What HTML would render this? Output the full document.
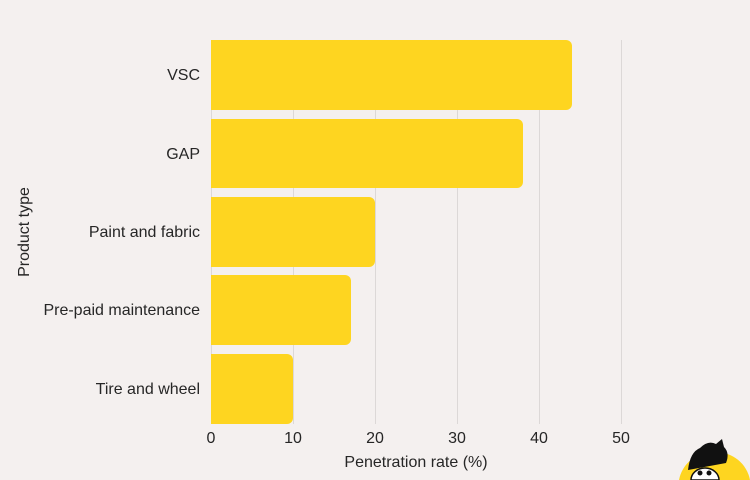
<!DOCTYPE html>
<html><head><style>
html,body{margin:0;padding:0;width:750px;height:480px;background:#f4f0ef;overflow:hidden;}
svg{display:block;}
svg text{font-family:"Liberation Sans",sans-serif;fill:#262626;}
</style></head><body>
<svg width="750" height="480" viewBox="0 0 750 480" xmlns="http://www.w3.org/2000/svg">
<rect width="750" height="480" fill="#f4f0ef"/>
<g stroke="#dcd8d7" stroke-width="1">
<line x1="211.5" y1="40" x2="211.5" y2="424"/>
<line x1="293.5" y1="40" x2="293.5" y2="424"/>
<line x1="375.5" y1="40" x2="375.5" y2="424"/>
<line x1="457.5" y1="40" x2="457.5" y2="424"/>
<line x1="539.5" y1="40" x2="539.5" y2="424"/>
<line x1="621.5" y1="40" x2="621.5" y2="424"/>
</g>
<g fill="#fed520">
<path d="M211 40 H566 a6 6 0 0 1 6 6 V104 a6 6 0 0 1 -6 6 H211Z"/>
<path d="M211 119 H517 a6 6 0 0 1 6 6 V182 a6 6 0 0 1 -6 6 H211Z"/>
<path d="M211 197 H369 a6 6 0 0 1 6 6 V261 a6 6 0 0 1 -6 6 H211Z"/>
<path d="M211 275 H345 a6 6 0 0 1 6 6 V339 a6 6 0 0 1 -6 6 H211Z"/>
<path d="M211 354 H287 a6 6 0 0 1 6 6 V418 a6 6 0 0 1 -6 6 H211Z"/>
</g>
<g font-size="16" text-anchor="end">
<text x="200" y="80">VSC</text>
<text x="200" y="159">GAP</text>
<text x="200" y="237">Paint and fabric</text>
<text x="200" y="315">Pre-paid maintenance</text>
<text x="200" y="394">Tire and wheel</text>
</g>
<g font-size="16" text-anchor="middle">
<text x="211" y="443">0</text>
<text x="293" y="443">10</text>
<text x="375" y="443">20</text>
<text x="457" y="443">30</text>
<text x="539" y="443">40</text>
<text x="621" y="443">50</text>
<text x="416" y="467">Penetration rate (%)</text>
<text transform="translate(29,232) rotate(-90)">Product type</text>
</g>
<path d="M679 480 A36 34 0 0 1 750 480 Z" fill="#fed520"/>
<path d="M688 470 q2 -18 12 -22 q8 -8 16 -4 l6 -5 l2 8 q6 6 2 16 z" fill="#111"/>
<path d="M691 480 a14 12 0 0 1 28 0 Z" fill="#fff" stroke="#111" stroke-width="1.5"/>
<circle cx="700" cy="473" r="2.5" fill="#111"/><circle cx="709" cy="473" r="2.5" fill="#111"/>
</svg>
</body></html>
